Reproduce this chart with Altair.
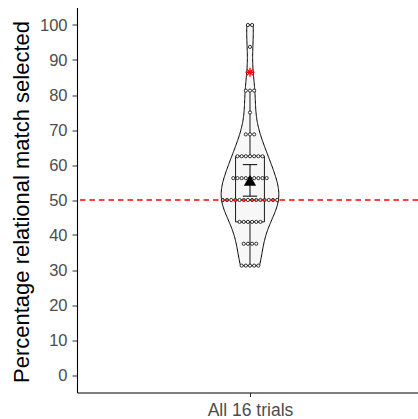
import altair as alt
import pandas as pd
import numpy as np

# ---- data ----
category = ["All 16 trials"]
score_levels = [100, 93.75, 81.25, 75, 68.75, 62.5, 56.25, 50, 43.75, 37.5, 31.25]
score_counts = [2, 1, 3, 1, 3, 7, 9, 14, 6, 4, 5]
mean_value = [55.6]
ci_low = [51.1]
ci_high = [60.1]
marker_value = [86.5]
chance_level = [50]
y_ticks = [0, 10, 20, 30, 40, 50, 60, 70, 80, 90, 100]

scores = [v for v, c in zip(score_levels, score_counts) for _ in range(c)]
arr = np.array(scores, dtype=float)

# summary statistics derived from the scores
q1, med, q3 = np.percentile(arr, [25, 50, 75])
iqr = q3 - q1
upper = arr[arr <= q3 + 1.5 * iqr].max()
lower = arr[arr >= q1 - 1.5 * iqr].min()
bw = 0.9 * min(arr.std(ddof=1), iqr / 1.34) * len(arr) ** -0.2

df_scores = pd.DataFrame({"score": scores})
df_box = pd.DataFrame({"q1": [q1], "med": [med], "q3": [q3], "lo": [lower], "hi": [upper]})
df_mean = pd.DataFrame({"mean": mean_value, "lo": ci_low, "hi": ci_high})
df_mark = pd.DataFrame({"v": marker_value})
df_chance = pd.DataFrame({"v": chance_level})

# ---- styles ----
FONT = "Liberation Sans"
violin_half = 0.1
box_half = 0.05
cap_half = 0.025
dot_step = 0.01448

xscale = alt.Scale(domain=[-0.6, 0.5827], nice=False, zero=False)
yscale = alt.Scale(domain=[-5, 105], nice=False, zero=False)

xaxis = alt.Axis(
    values=[0], labelExpr="'" + category[0] + "'", title=None, grid=False,
    domainColor="black", domainWidth=1.1, tickColor="#333333", tickSize=4,
    labelFontSize=17.5, labelColor="#4D4D4D", labelFont=FONT, labelPadding=5,
)
yaxis = alt.Axis(
    values=y_ticks, title="Percentage relational match selected", grid=False,
    domainColor="black", domainWidth=1.1, tickColor="#333333", tickSize=5,
    labelFontSize=16.5, labelColor="#4D4D4D", labelFont=FONT, labelPadding=5,
    titleFontSize=22, titleColor="black", titleFont=FONT, titleFontWeight="normal",
    titleAngle=-90, titleX=-49, titleY=194, titleAlign="center", titleBaseline="alphabetic",
)


def X(f):
    return alt.X(f, type="quantitative", scale=xscale, axis=xaxis)


def Y(f):
    return alt.Y(f, type="quantitative", scale=yscale, axis=yaxis)


violin = alt.Chart(df_scores).transform_density(
    "score", as_=["score", "density"], bandwidth=float(bw), extent=[float(arr.min()), float(arr.max())], steps=200
).transform_joinaggregate(
    maxd="max(density)"
).transform_calculate(
    xr=f"datum.density / datum.maxd * {violin_half}",
    xl=f"-datum.density / datum.maxd * {violin_half}",
).mark_area(orient="horizontal", fill="#F7F7F7", stroke="black", strokeWidth=1).encode(
    y=Y("score"), x=X("xl"), x2="xr:Q"
)

box = alt.Chart(df_box).transform_calculate(
    a=f"-{box_half}", b=f"{box_half}"
).mark_rect(fill=None, stroke="black", strokeWidth=0.9).encode(
    x=X("a"), x2="b:Q", y=Y("q1"), y2="q3:Q"
)
median = alt.Chart(df_box).transform_calculate(
    a=f"-{box_half}", b=f"{box_half}"
).mark_rule(color="black", strokeWidth=0.9).encode(
    x=X("a"), x2="b:Q", y=Y("med")
)
whisk_up = alt.Chart(df_box).transform_calculate(c="0").mark_rule(color="black", strokeWidth=0.9).encode(
    x=X("c"), y=Y("q3"), y2="hi:Q"
)
whisk_lo = alt.Chart(df_box).transform_calculate(c="0").mark_rule(color="black", strokeWidth=0.9).encode(
    x=X("c"), y=Y("lo"), y2="q1:Q"
)

dots = alt.Chart(df_scores).transform_window(
    idx="row_number()", groupby=["score"]
).transform_joinaggregate(
    n="count()", groupby=["score"]
).transform_calculate(
    xo=f"(datum.idx - 1 - (datum.n - 1) / 2) * {dot_step}"
).mark_circle(fill="white", stroke="black", strokeWidth=0.8, size=10, opacity=1).encode(
    x=X("xo"), y=Y("score")
)

chance = alt.Chart(df_chance).mark_rule(color="#FF0000", strokeDash=[5.5, 4], strokeWidth=1.4).encode(
    y=Y("v")
)

err_line = alt.Chart(df_mean).transform_calculate(c="0").mark_rule(color="black", strokeWidth=1).encode(
    x=X("c"), y=Y("lo"), y2="hi:Q"
)
err_cap_lo = alt.Chart(df_mean).transform_calculate(
    a=f"-{cap_half}", b=f"{cap_half}"
).mark_rule(color="black", strokeWidth=1).encode(x=X("a"), x2="b:Q", y=Y("lo"))
err_cap_hi = alt.Chart(df_mean).transform_calculate(
    a=f"-{cap_half}", b=f"{cap_half}"
).mark_rule(color="black", strokeWidth=1).encode(x=X("a"), x2="b:Q", y=Y("hi"))

mean_pt = alt.Chart(df_mean).transform_calculate(c="0").mark_point(
    shape="triangle-up", filled=True, color="black", size=150, opacity=1
).encode(x=X("c"), y=Y("mean"))

aster = alt.Chart(df_mark).transform_calculate(c="0").mark_point(
    shape="M0,-1L0,1M-1,0L1,0M-0.7,-0.7L0.7,0.7M-0.7,0.7L0.7,-0.7",
    filled=False, stroke="#FF0000", strokeWidth=1.3, size=80, opacity=1
).encode(x=X("c"), y=Y("v"))

chart = alt.layer(
    violin, box, median, whisk_up, whisk_lo, dots, chance,
    err_line, err_cap_lo, err_cap_hi, mean_pt, aster
).properties(
    width=341, height=385,
    autosize=alt.AutoSizeParams(type="none"),
    padding={"left": 77, "top": 7.5, "right": 0, "bottom": 26.5},
    background="white",
).configure_view(stroke=None)

chart.save("out.html", embed_options={"renderer": "svg", "actions": False})
